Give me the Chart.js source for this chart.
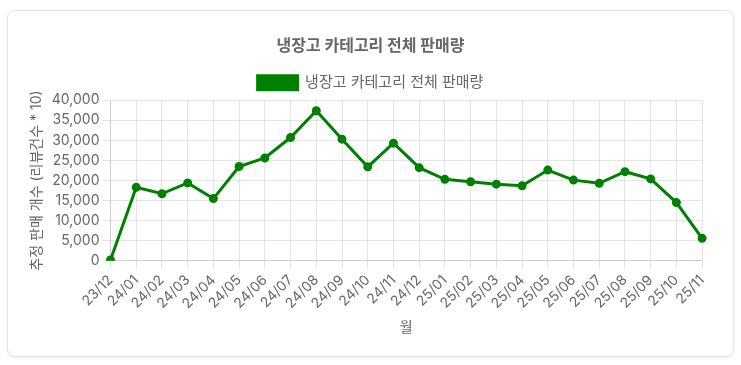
<!DOCTYPE html>
<html>
<head>
<meta charset="utf-8">
<script src="https://cdn.jsdelivr.net/npm/chart.js@4"></script>
<style>
  body { margin: 0; background: #fff; }
  .card {
    position: absolute; left: 7px; top: 10px;
    width: 727px; height: 347px; box-sizing: border-box;
    padding: 16px; background: #fff;
    border: 1px solid #e3e6ec; border-radius: 8px;
    box-shadow: 0 1px 3px rgba(0,0,0,0.08);
  }
  .card .wrap { position: relative; width: 100%; height: 100%; }
</style>
</head>
<body>
<div class="card"><div class="wrap"><canvas id="salesChart"></canvas></div></div>
<script>
var months = ['23/12', '24/01', '24/02', '24/03', '24/04', '24/05', '24/06', '24/07', '24/08', '24/09',
  '24/10', '24/11', '24/12', '25/01', '25/02', '25/03', '25/04', '25/05', '25/06', '25/07',
  '25/08', '25/09', '25/10', '25/11'];
var sales = [200, 18300, 16700, 19400, 15500, 23500, 25600, 30700, 37400, 30300,
  23400, 29300, 23200, 20300, 19700, 19100, 18700, 22600, 20100, 19300,
  22200, 20400, 14500, 5600];
var seriesName = '냉장고 카테고리 전체 판매량';

Chart.defaults.font.family = "Inter, 'Noto Sans CJK KR', sans-serif";
Chart.defaults.color = '#666';

var ctx = document.getElementById('salesChart');
var myChart = new Chart(ctx, {
  type: 'line',
  data: {
    labels: months,
    datasets: [{
      label: seriesName,
      data: sales,
      borderColor: '#008000',
      backgroundColor: '#008000',
      borderWidth: 3,
      pointRadius: 3,
      pointBackgroundColor: '#008000',
      tension: 0
    }]
  },
  options: {
    responsive: true,
    maintainAspectRatio: false,
    animation: false,
    plugins: {
      title: {
        display: true,
        text: seriesName,
        font: { size: 16, weight: 'bold' },
        padding: { top: 10, bottom: 9 }
      },
      legend: {
        labels: { font: { size: 15 }, boxWidth: 40, boxHeight: 14 }
      }
    },
    scales: {
      x: {
        title: { display: true, text: '월', font: { size: 14 } },
        ticks: { font: { size: 14 }, maxRotation: 45, minRotation: 45, autoSkip: false }
      },
      y: {
        min: 0,
        max: 40000,
        title: { display: true, text: '추정 판매 개수 (리뷰건수 * 10)', font: { size: 14 } },
        ticks: { font: { size: 14 }, stepSize: 5000, autoSkip: false }
      }
    }
  }
});
</script>
</body>
</html>
